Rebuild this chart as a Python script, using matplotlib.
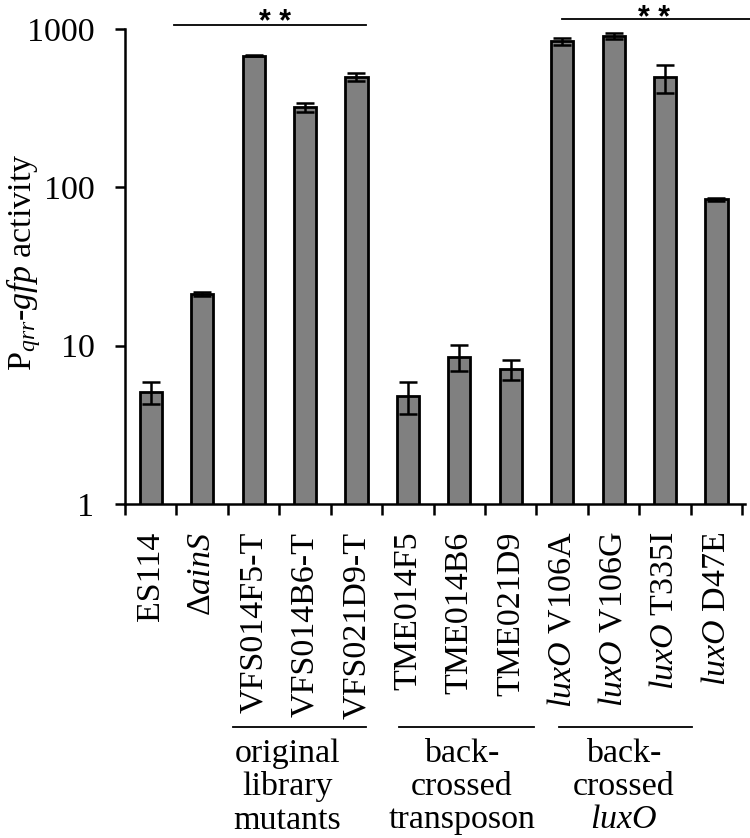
import numpy as np
import matplotlib.pyplot as plt
from matplotlib.transforms import blended_transform_factory

plt.rcParams['font.family'] = ['Liberation Serif', 'DejaVu Serif']
plt.rcParams['mathtext.fontset'] = 'custom'
plt.rcParams['mathtext.rm'] = 'Liberation Serif'
plt.rcParams['mathtext.it'] = 'Liberation Serif:italic'

# data
strains = ['ES114', r'$\Delta\mathit{ainS}$', 'VFS014F5-T', 'VFS014B6-T', 'VFS021D9-T',
           'TME014F5', 'TME014B6', 'TME021D9',
           r'$\mathit{luxO}$ V106A', r'$\mathit{luxO}$ V106G',
           r'$\mathit{luxO}$ T335I', r'$\mathit{luxO}$ D47E']
activity = [5.1, 21.2, 680, 321, 500, 4.8, 8.5, 7.1, 835, 900, 495, 84]
errors = [0.8, 0.7, 8, 20, 30, 1.1, 1.6, 1.0, 40, 40, 100, 2]

groups = ['original\nlibrary\nmutants', 'back-\ncrossed\ntransposon', 'back-\ncrossed\n$\\mathit{luxO}$']
group_span = [(1.59, 4.18), (4.82, 7.46), (7.93, 10.53)]
group_text_x = [2.66, 6.05, 9.2]

sig_span = [(0.45, 4.18), (8.0, 11.65)]
sig_y = [1060, 1160]
sig_text_x = [2.41, 9.79]

FS = 24.5

fig = plt.figure(figsize=(7.5, 8.38), dpi=100)
ax = fig.add_axes([0.1667, 0.3986, 0.8263, 0.5668])

x = np.arange(len(strains))
ax.bar(x, activity, width=0.43, color='#808080', edgecolor='black', linewidth=2, zorder=2)
ax.errorbar(x, activity, yerr=errors, fmt='none', ecolor='black', elinewidth=1.8,
            capsize=6.5, capthick=1.8, zorder=3)

ax.set_yscale('log')
ax.set_ylim(1, 1000)
ax.set_xlim(-0.5, 11.55)
ax.set_yticks([1, 10, 100, 1000])
ax.set_yticklabels(['1', '10', '100', '1000'])
ax.yaxis.set_minor_locator(plt.NullLocator())
ax.tick_params(axis='y', which='major', length=7, width=1.8, labelsize=FS, pad=15)

ax.set_xticks(np.arange(-0.5, 12, 1.0))
ax.set_xticklabels([])
ax.set_xticks(x, minor=True)
ax.set_xticklabels(strains, minor=True, rotation=90, fontsize=FS)
ax.tick_params(axis='x', which='major', length=8, width=1.8, direction='out')
ax.tick_params(axis='x', which='minor', length=0, pad=20)

for s in ['top', 'right']:
    ax.spines[s].set_visible(False)
for s in ['left', 'bottom']:
    ax.spines[s].set_linewidth(1.8)

fig.text(4 / 750, 1 - 262 / 838, r'P$_{qrr}$-$\mathit{gfp}$ activity', fontsize=FS,
         rotation=90, ha='left', va='center')

# significance bars
for (x0, x1), yy in zip(sig_span, sig_y):
    ax.plot([x0, x1], [yy, yy], color='black', linewidth=1.3, clip_on=False)
sig_trans = blended_transform_factory(ax.transData, fig.transFigure)
ax.text(sig_text_x[0], 1 - 31 / 838, '* *', transform=sig_trans, ha='center', va='baseline',
        fontsize=22, fontweight='bold', family='Liberation Sans')
ax.text(sig_text_x[1], 1 - 27 / 838, '* *', transform=sig_trans, ha='center', va='baseline',
        fontsize=22, fontweight='bold', family='Liberation Sans')

# group labels under the tick labels
trans = blended_transform_factory(ax.transData, fig.transFigure)
for (x0, x1), tx, name in zip(group_span, group_text_x, groups):
    ax.plot([x0, x1], [1 - 727 / 838, 1 - 727 / 838], color='black', linewidth=1.3,
            transform=trans, clip_on=False)
    ax.text(tx, 1 - 738 / 838, name, transform=trans, ha='center', va='top',
            fontsize=FS, linespacing=1.12, multialignment='center')

fig.savefig('out.png', dpi=100)
